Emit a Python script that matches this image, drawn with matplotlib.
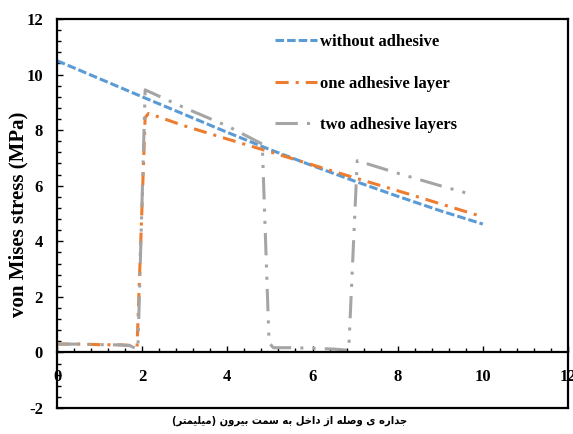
import matplotlib
matplotlib.use("Agg")
import matplotlib.pyplot as plt
from matplotlib.ticker import MultipleLocator

# ---- data -------------------------------------------------------------
without_x = [0, 1, 2, 3, 4, 5, 6, 7, 8, 9, 10]
without_y = [10.5, 9.85, 9.2, 8.56, 7.92, 7.3, 6.72, 6.16, 5.62, 5.1, 4.62]

one_x = [0, 0.5, 1.0, 1.5, 1.75, 1.88, 2.07, 2.15, 3, 4, 5, 6, 7, 8, 9, 10]
one_y = [0.3, 0.3, 0.28, 0.27, 0.25, 0.2, 8.45, 8.6, 8.15, 7.68, 7.22,
         6.75, 6.28, 5.82, 5.35, 4.88]

two_x = [0, 0.5, 1.0, 1.5, 1.7, 1.8, 1.9, 2.07, 3, 4, 4.82, 4.98, 5.08,
         5.5, 6.0, 6.5, 6.85, 7.05, 8, 9, 9.7]
two_y = [0.3, 0.3, 0.28, 0.27, 0.25, 0.18, 0.12, 9.45, 8.8, 8.15, 7.5, 0.35,
         0.17, 0.17, 0.15, 0.12, 0.08, 6.9, 6.45, 6.0, 5.7]

series_labels = ["without adhesive", "one adhesive layer", "two adhesive layers"]
y_label = "von Mises stress (MPa)"
x_label = "جداره ی وصله از داخل به سمت بیرون (میلیمتر)"
x_ticks = [0, 2, 4, 6, 8, 10, 12]
y_ticks = [-2, 0, 2, 4, 6, 8, 10, 12]

# ---- minimal Arabic-script shaping (matplotlib has no text shaping) ---
# isolated, final, initial, medial
FORMS = {
    "ا": ("\uFE8D", "\uFE8E", None, None),
    "ب": ("\uFE8F", "\uFE90", "\uFE91", "\uFE92"),
    "ت": ("\uFE95", "\uFE96", "\uFE97", "\uFE98"),
    "ج": ("\uFE9D", "\uFE9E", "\uFE9F", "\uFEA0"),
    "خ": ("\uFEA5", "\uFEA6", "\uFEA7", "\uFEA8"),
    "د": ("\uFEA9", "\uFEAA", None, None),
    "ر": ("\uFEAD", "\uFEAE", None, None),
    "ز": ("\uFEAF", "\uFEB0", None, None),
    "س": ("\uFEB1", "\uFEB2", "\uFEB3", "\uFEB4"),
    "ص": ("\uFEB9", "\uFEBA", "\uFEBB", "\uFEBC"),
    "ل": ("\uFEDD", "\uFEDE", "\uFEDF", "\uFEE0"),
    "م": ("\uFEE1", "\uFEE2", "\uFEE3", "\uFEE4"),
    "ن": ("\uFEE5", "\uFEE6", "\uFEE7", "\uFEE8"),
    "ه": ("\uFEE9", "\uFEEA", "\uFEEB", "\uFEEC"),
    "و": ("\uFEED", "\uFEEE", None, None),
    "ی": ("\uFBFC", "\uFBFD", "\uFBFE", "\uFBFF"),
}


def shape_rtl(text):
    out = []
    for i, c in enumerate(text):
        if c not in FORMS:
            out.append(c)
            continue
        prev = text[i - 1] if i > 0 else None
        nxt = text[i + 1] if i + 1 < len(text) else None
        join_prev = prev in FORMS and FORMS[prev][2] is not None
        join_next = FORMS[c][2] is not None and nxt in FORMS
        iso, fin, ini, med = FORMS[c]
        if join_prev and join_next:
            out.append(med)
        elif join_prev:
            out.append(fin)
        elif join_next:
            out.append(ini)
        else:
            out.append(iso)
    visual = "".join(reversed(out))
    return visual.translate(str.maketrans("()", ")("))


# ---- figure -----------------------------------------------------------
plt.rcParams["font.family"] = ["Liberation Serif", "DejaVu Serif"]
plt.rcParams["font.weight"] = "bold"
plt.rcParams["axes.unicode_minus"] = False

fig = plt.figure(figsize=(5.73, 4.34), dpi=100)
ax = fig.add_axes([57 / 573, 26 / 434, 511 / 573, 389 / 434])

lw = 2.2
ax.plot(without_x, without_y, color="#5B9BD5", lw=lw,
        linestyle=(0, (2.8, 1.0)), label=series_labels[0])
ax.plot(one_x, one_y, color="#ED7D31", lw=lw,
        linestyle=(0, (4.3, 2.3, 1.0, 2.3)), label=series_labels[1])
ax.plot(two_x, two_y, color="#A5A5A5", lw=lw,
        linestyle=(0, (7.3, 3.0, 1.0, 3.0, 1.0, 3.0)), label=series_labels[2])

ax.set_xlim(0, 12)
ax.set_ylim(-2, 12)
ax.set_xticks(x_ticks)
ax.set_yticks(y_ticks)
ax.xaxis.set_minor_locator(MultipleLocator(0.4))
ax.yaxis.set_minor_locator(MultipleLocator(0.4))

# x axis drawn through y = 0, box closed around the plot
ax.spines["bottom"].set_position(("data", 0))
for s in ax.spines.values():
    s.set_linewidth(1.6)
ax.plot([0, 1], [0, 0], transform=ax.transAxes, color="black", lw=1.6,
        clip_on=False)

ax.tick_params(axis="both", which="both", direction="in", width=1,
               top=False, right=False)
ax.tick_params(axis="both", which="major", length=4, labelsize=12)
ax.tick_params(axis="both", which="minor", length=3)
ax.tick_params(axis="x", which="major", pad=12)
ax.tick_params(axis="y", which="major", pad=10)
for t in ax.get_xticklabels() + ax.get_yticklabels():
    t.set_fontweight("bold")

ax.set_ylabel(y_label, fontsize=15, fontweight="bold", va="center")
ax.yaxis.set_label_coords(-39 / 511, (434 - 214 - 26) / 389)
fig.text(290 / 573, 1 - 421 / 434, shape_rtl(x_label),
         family="DejaVu Sans", fontstretch="condensed", fontsize=8,
         fontweight="bold", ha="center", va="center")

leg = ax.legend(loc="upper left", bbox_to_anchor=(275 / 573, 1 - 34 / 434),
                bbox_transform=fig.transFigure, frameon=False,
                handlelength=2.5, handletextpad=0.2, labelspacing=1.53,
                borderpad=0, borderaxespad=0,
                prop={"family": "Liberation Serif", "weight": "bold",
                      "size": 12})

fig.savefig("out.png", dpi=100)
